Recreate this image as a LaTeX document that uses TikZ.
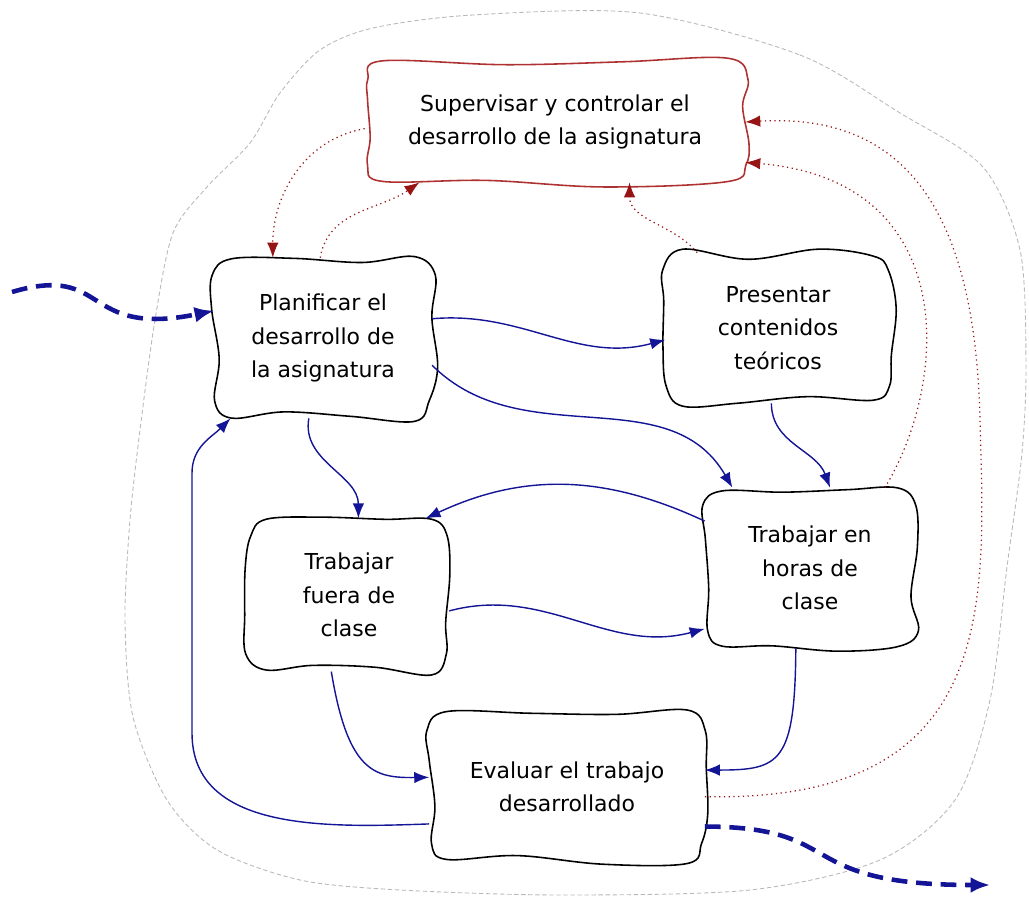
\documentclass[tikz,border=0pt]{standalone}
\usepackage{fontspec}
\setmainfont{DejaVu Sans}
\usepackage{tikz}
\usetikzlibrary{arrows.meta,calc}

\definecolor{flowblue}{RGB}{20,20,150}
\definecolor{ctrlred}{RGB}{150,20,20}
\definecolor{boxred}{RGB}{175,50,50}

% hand drawn border round a node
\newcommand{\wavyborder}[2]{%
  \draw[#1] plot[smooth cycle, tension=0.6] coordinates {
    ($(#2.north west)+(10pt,{2pt*rand})$)
    ($(#2.north west)!0.37!(#2.north east)+(0pt,{3.8pt*rand})$)
    ($(#2.north west)!0.68!(#2.north east)+(0pt,{3.8pt*rand})$)
    ($(#2.north east)+(-10pt,{2pt*rand})$)
    ($(#2.north east)+({2pt*rand},-10pt)$)
    ($(#2.north east)!0.37!(#2.south east)+({3.8pt*rand},0pt)$)
    ($(#2.north east)!0.68!(#2.south east)+({3.8pt*rand},0pt)$)
    ($(#2.south east)+({2pt*rand},10pt)$)
    ($(#2.south east)+(-10pt,{2pt*rand})$)
    ($(#2.south east)!0.37!(#2.south west)+(0pt,{3.8pt*rand})$)
    ($(#2.south east)!0.68!(#2.south west)+(0pt,{3.8pt*rand})$)
    ($(#2.south west)+(10pt,{2pt*rand})$)
    ($(#2.south west)+({2pt*rand},10pt)$)
    ($(#2.south west)!0.37!(#2.north west)+({3.8pt*rand},0pt)$)
    ($(#2.south west)!0.68!(#2.north west)+({3.8pt*rand},0pt)$)
    ($(#2.north west)+({2pt*rand},-10pt)$)
  };}

\begin{document}
\begin{tikzpicture}[x=0.02cm, y=0.02cm,
  every node/.style = {shape=rectangle, align=center,
    font=\fontsize{12.5}{19}\selectfont},
  cloudbox/.style = {inner sep=0pt},
  edge/.style = {line width=0.9pt, line join=round},
  flow/.style = {draw=flowblue, line width=0.8pt, -{Latex[length=8.5pt,width=6.5pt]}},
  control/.style = {draw=ctrlred, dotted, line width=0.7pt, -{Latex[length=8.5pt,width=6.5pt]}},
  inout/.style = {draw=flowblue, line width=2.6pt, dash pattern=on 9pt off 5pt,
    -{Latex[length=11pt,width=9pt]}}]
  \pgfmathsetseed{7}
  \useasboundingbox (0,0) rectangle (1029,903);
  \draw[gray!55, line width=0.5pt, dash pattern=on 2.5pt off 1.5pt] plot[smooth cycle] coordinates {
    (640,890) (800,848) (900,790) (983,736) (1020,653) (1026,540) (1022,450)
    (1007,336) (990,203) (955,103) (880,43) (750,13) (560,8) (400,13) (300,23)
    (217,53) (167,103) (133,186) (125,283) (130,383) (140,473) (155,583)
    (173,670) (207,716) (250,760) (280,810) (320,853) (373,875) (473,888)};

  \node[cloudbox, minimum width=7.6cm, minimum height=2.4cm] (sup) at (555,781)
    {Supervisar y controlar el\\desarrollo de la asignatura};
  \node[cloudbox, minimum width=4.35cm, minimum height=3.2cm] (plan) at (323,565)
    {Planificar el\\desarrollo de\\la asignatura};
  \node[cloudbox, minimum width=4.5cm, minimum height=3.0cm] (pres) at (778,575)
    {Presentar\\contenidos\\teóricos};
  \node[cloudbox, minimum width=4.0cm, minimum height=3.05cm] (fuera) at (349,308)
    {Trabajar\\fuera de\\clase};
  \node[cloudbox, minimum width=4.2cm, minimum height=3.2cm] (horas) at (810,335)
    {Trabajar en\\horas de\\clase};
  \node[cloudbox, minimum width=5.5cm, minimum height=2.95cm] (eval) at (567,116)
    {Evaluar el trabajo\\desarrollado};

  \wavyborder{edge, draw=boxred}{sup}
  \wavyborder{edge}{plan}
  \wavyborder{edge}{pres}
  \wavyborder{edge}{fuera}
  \wavyborder{edge}{horas}
  \wavyborder{edge}{eval}

  \coordinate (entry) at (12,611);
  \coordinate (exit) at (990,18);

  \draw[inout] (entry) .. controls (110,640) and (80,565) .. (plan.166);
  \draw[inout] (eval.-16) .. controls (850,76) and (790,18) .. (exit);

  \draw[flow] (plan.10) to[out=5, in=195] (pres.186);
  \draw[flow] (plan.-14) to[out=-45, in=120] (horas.134);
  \draw[flow] (plan.-100) to[out=-100, in=90] (fuera.83);
  \draw[flow] (pres.-95) to[out=-90, in=110] (horas.76);
  \draw[flow] (horas.156) to[out=155, in=25] (fuera.45);
  \draw[flow] (fuera.-9) to[out=15, in=195] (horas.210);
  \draw[flow] (horas.-100) .. controls (795,140) and (780,133) .. (eval.7);
  \draw[flow] (fuera.-103) .. controls (348,130) and (375,125) .. (eval.176);
  \draw[flow] (eval.195) to[out=182, in=-90] (192,170) -- (192,430) to[out=90, in=225] (plan.221);

  \draw[control] (sup.182) to[out=190, in=90] (plan.122);
  \draw[control] (plan.92) to[out=80, in=215] (sup.204);
  \draw[control] (pres.137) to[out=130, in=-90] (sup.-39);
  \draw[control] (horas.47) .. controls (950,523) and (960,723) .. (sup.-12);
  \draw[control] (eval.-4) .. controls (1000,100) and (985,300) .. (980,483)
    .. controls (975,700) and (900,790) .. (sup.0);
\end{tikzpicture}
\end{document}
